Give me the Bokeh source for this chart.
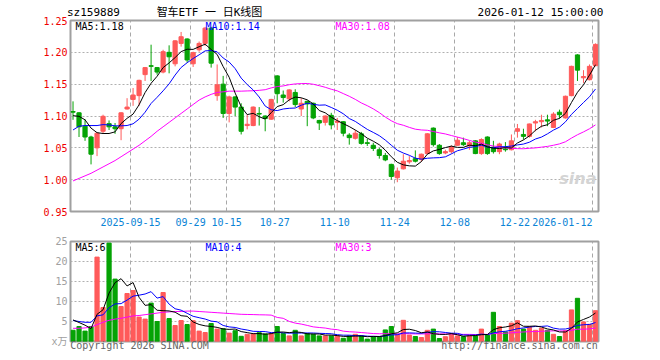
from bokeh.plotting import figure
from bokeh.layouts import column
from bokeh.models import (ColumnDataSource, FixedTicker, Label, Range1d, LinearAxis,
                          NumeralTickFormatter, CustomJSTickFormatter)
from bokeh.embed import file_html
from bokeh.resources import INLINE

# ---------------- data ----------------
dates = (
    ["2025-09-%s" % d for d in ["01", "02", "03", "04", "05", "08", "09", "10", "11", "12", "15", "16", "17", "18", "19", "22", "23", "24", "25", "26", "29", "30"]]
    + ["2025-10-%s" % d for d in ["09", "10", "13", "14", "15", "16", "17", "20", "21", "22", "23", "24", "27", "28", "29", "30", "31"]]
    + ["2025-11-%s" % d for d in ["03", "04", "05", "06", "07", "10", "11", "12", "13", "14", "17", "18", "19", "20", "21", "24", "25", "26", "27", "28"]]
    + ["2025-12-%s" % d for d in ["01", "02", "03", "04", "05", "08", "09", "10", "11", "12", "15", "16", "17", "18", "19", "22", "23", "24", "25", "26", "29", "30", "31"]]
    + ["2026-01-%s" % d for d in ["05", "06", "07", "08", "09", "12"]]
)

open_ = [1.107, 1.105, 1.084, 1.067, 1.050, 1.076, 1.088, 1.083, 1.080, 1.111,
         1.126, 1.132, 1.165, 1.179, 1.176, 1.169, 1.200, 1.182, 1.214, 1.221,
         1.182, 1.204, 1.214, 1.238, 1.132, 1.150, 1.104, 1.130, 1.114, 1.085,
         1.085, 1.104, 1.100, 1.095, 1.163, 1.133, 1.127, 1.137, 1.111, 1.123,
         1.120, 1.093, 1.090, 1.101, 1.090, 1.091, 1.070, 1.065, 1.072, 1.058,
         1.054, 1.047, 1.038, 1.024, 1.003, 1.017, 1.028, 1.033, 1.032, 1.041,
         1.081, 1.054, 1.042, 1.044, 1.054, 1.058, 1.053, 1.061, 1.041, 1.067,
         1.051, 1.044, 1.048, 1.047, 1.076, 1.071, 1.068, 1.089, 1.091, 1.094,
         1.082, 1.106, 1.097, 1.132, 1.196, 1.160, 1.157, 1.179]
high = [1.123, 1.106, 1.095, 1.069, 1.074, 1.102, 1.093, 1.089, 1.106, 1.128,
        1.144, 1.157, 1.177, 1.212, 1.177, 1.204, 1.211, 1.219, 1.232, 1.222,
        1.201, 1.217, 1.240, 1.240, 1.181, 1.163, 1.132, 1.131, 1.120, 1.102,
        1.115, 1.114, 1.101, 1.127, 1.164, 1.140, 1.142, 1.142, 1.128, 1.124,
        1.121, 1.094, 1.101, 1.105, 1.097, 1.092, 1.073, 1.078, 1.075, 1.064,
        1.058, 1.050, 1.042, 1.025, 1.019, 1.040, 1.037, 1.046, 1.041, 1.073,
        1.082, 1.056, 1.047, 1.054, 1.067, 1.066, 1.061, 1.062, 1.065, 1.068,
        1.061, 1.058, 1.059, 1.071, 1.0875, 1.080, 1.088, 1.094, 1.102, 1.102,
        1.106, 1.110, 1.132, 1.179, 1.197, 1.172, 1.181, 1.214]
low = [1.094, 1.067, 1.061, 1.024, 1.037, 1.073, 1.078, 1.072, 1.062, 1.110,
       1.116, 1.116, 1.155, 1.155, 1.165, 1.167, 1.167, 1.178, 1.209, 1.184,
       1.177, 1.201, 1.210, 1.176, 1.124, 1.097, 1.090, 1.100, 1.071, 1.079,
       1.084, 1.085, 1.076, 1.094, 1.120, 1.121, 1.123, 1.114, 1.100, 1.084,
       1.095, 1.078, 1.085, 1.079, 1.078, 1.068, 1.055, 1.063, 1.055, 1.053,
       1.045, 1.033, 1.029, 1.000, 0.996, 1.016, 1.025, 1.027, 1.028, 1.040,
       1.052, 1.039, 1.040, 1.041, 1.053, 1.053, 1.047, 1.040, 1.039, 1.039,
       1.041, 1.040, 1.044, 1.046, 1.066, 1.063, 1.066, 1.076, 1.082, 1.084,
       1.081, 1.096, 1.096, 1.131, 1.155, 1.152, 1.156, 1.178]
close = [1.106, 1.083, 1.067, 1.040, 1.073, 1.0995, 1.083, 1.080, 1.105, 1.114,
         1.133, 1.156, 1.176, 1.178, 1.169, 1.201, 1.193, 1.218, 1.2245, 1.188,
         1.1995, 1.214, 1.238, 1.183, 1.149, 1.104, 1.130, 1.114, 1.076, 1.087,
         1.114, 1.103, 1.096, 1.126, 1.135, 1.129, 1.141, 1.118, 1.120, 1.119,
         1.097, 1.089, 1.100, 1.086, 1.092, 1.073, 1.066, 1.073, 1.057, 1.057,
         1.049, 1.038, 1.031, 1.005, 1.0135, 1.029, 1.030, 1.029, 1.040, 1.072,
         1.055, 1.041, 1.044, 1.0515, 1.062, 1.055, 1.058, 1.041, 1.063, 1.041,
         1.044, 1.056, 1.047, 1.061, 1.080, 1.068, 1.0875, 1.091, 1.093, 1.092,
         1.103, 1.102, 1.131, 1.178, 1.172, 1.162, 1.178, 1.2125]
volume = [2.8, 3.75, 2.6, 3.75, 21.1, 8.5, 24.6, 15.6, 8.75, 12.0,
          12.75, 6.1, 5.6, 9.6, 5.0, 12.25, 5.75, 4.0, 5.25, 4.25,
          5.2, 2.6, 2.25, 4.5, 3.1, 3.2, 2.1, 2.7, 1.3, 1.8,
          1.9, 2.2, 1.9, 2.0, 3.75, 2.0, 1.4, 2.8, 1.4, 2.0,
          1.8, 1.4, 1.4, 1.4, 1.4, 0.8, 1.4, 1.8, 1.4, 0.6,
          1.2, 1.2, 2.9, 3.75, 1.8, 5.3, 1.6, 1.25, 1.0, 2.8,
          3.1, 0.75, 1.2, 2.0, 1.4, 1.2, 1.4, 1.4, 3.1, 1.6,
          7.3, 3.75, 2.4, 4.6, 5.2, 3.1, 3.7, 2.8, 3.3, 2.8,
          1.8, 1.25, 2.7, 7.9, 10.8, 4.9, 4.3, 7.7]

# closes / volumes of the 9 sessions before the window
prior_close = [1.023, 1.057, 1.040, 1.073, 1.0845, 1.088, 1.0945, 1.105, 1.109]
prior_volume = [6.25, 4.6, 3.75, 5.1, 5.8, 7.0, 5.95, 8.0, 3.25]
ma30_price_head = [0.998, 1.002, 1.006, 1.010, 1.015, 1.020, 1.025, 1.030, 1.036, 1.042,
                   1.048, 1.054, 1.061, 1.068, 1.076, 1.083, 1.090, 1.097, 1.104, 1.111,
                   1.118, 1.125, 1.130, 1.134, 1.137, 1.138, 1.139, 1.139, 1.139]
ma30_volume_head = [3.3, 3.3, 3.4, 3.6, 4.2, 4.8, 5.3, 5.6, 5.8, 6.1,
                    6.4, 6.5, 6.7, 6.9, 7.1, 7.3, 7.4, 7.5, 7.5, 7.6,
                    7.6, 7.5, 7.4, 7.3, 7.2, 7.1, 7.0, 6.9, 6.8]

tick_dates = ["2025-09-15", "2025-09-29", "2025-10-15", "2025-10-27", "2025-11-10",
              "2025-11-24", "2025-12-08", "2025-12-22", "2026-01-12"]
tick_labels = ["2025-09-15", "09-29", "10-15", "10-27", "11-10",
               "11-24", "12-08", "12-22", "2026-01-12"]
price_ticks = [0.95, 1.00, 1.05, 1.10, 1.15, 1.20, 1.25]
volume_ticks = [0, 5, 10, 15, 20, 25]
volume_unit = "x万"

header_texts = ["sz159889", "智车ETF 一 日K线图", "2026-01-12 15:00:00"]
footer_texts = ["Copyright 2026 SINA.COM", "http://finance.sina.com.cn"]
price_legend = ["MA5:1.18", "MA10:1.14", "MA30:1.08"]
volume_legend = ["MA5:6", "MA10:4", "MA30:3"]

# ---------------- derived ----------------
n = len(close)
xs = list(range(n))


def moving(series, prior, k, head=None):
    full = list(prior) + list(series)
    off = len(prior)
    out = []
    for i in range(len(series)):
        j = off + i
        if head is not None and i < len(head):
            out.append(head[i])
        else:
            out.append(sum(full[j - k + 1:j + 1]) / k)
    return out


ma5 = moving(close, prior_close, 5)
ma10 = moving(close, prior_close, 10)
ma30 = moving(close, [], 30, ma30_price_head)
vma5 = moving(volume, prior_volume, 5)
vma10 = moving(volume, prior_volume, 10)
vma30 = moving(volume, [], 30, ma30_volume_head)

RED = "#ff5a5a"
GREEN = "#05a305"
colors = [RED if c >= o else GREEN for o, c in zip(open_, close)]
src = ColumnDataSource(dict(
    x=xs, open=open_, close=close, high=high, low=low,
    top=[max(o, c) for o, c in zip(open_, close)],
    bottom=[min(o, c) for o, c in zip(open_, close)],
    vol=volume, color=colors,
    ma5=ma5, ma10=ma10, ma30=ma30, vma5=vma5, vma10=vma10, vma30=vma30,
))

GRID_SHIFT = -0.42
grid_pos = [dates.index(d) + GRID_SHIFT for d in tick_dates]
label_pos = list(grid_pos)
label_pos[-1] = grid_pos[-1] - 5.1  # last label is right-aligned to its line

MONO = "DejaVu Sans Mono"
X0, X1 = -0.42, 87.5
W, LB, RB = 660, 70, 62
PXU = (W - LB - RB) / (X1 - X0)


def px_to_x(px):
    return X0 + (px - LB) / PXU


def lookup_formatter(pos, labels):
    return CustomJSTickFormatter(args=dict(pos=pos, lab=labels), code="""
const i = pos.findIndex(p => Math.abs(p - tick) < 1e-6);
return i >= 0 ? lab[i] : "";
""")


def plain_axis(ax, color, size="10px", standoff=3, font=MONO):
    ax.axis_line_color = None
    ax.major_tick_line_color = None
    ax.minor_tick_line_color = None
    ax.major_tick_out = 0
    ax.major_tick_in = 0
    ax.minor_tick_out = 0
    ax.minor_tick_in = 0
    ax.major_label_text_color = color
    ax.major_label_text_font = font
    ax.major_label_text_font_size = size
    ax.major_label_standoff = standoff


# ---------------- price panel ----------------
H1, TB1, BB1 = 232, 20, 21
Y0, Y1 = 0.95, 1.25
p1 = figure(width=W, height=H1, x_range=Range1d(X0, X1), y_range=Range1d(Y0, Y1),
            output_backend="svg", toolbar_location=None,
            min_border_left=LB, min_border_right=RB, min_border_top=TB1, min_border_bottom=BB1,
            outline_line_color="#a0a0a0", outline_line_width=2,
            background_fill_color="white", border_fill_color="white")


def py1(py):
    return Y1 - (py - TB1) * (Y1 - Y0) / (H1 - TB1 - BB1)


p1.yaxis.ticker = FixedTicker(ticks=price_ticks)
p1.yaxis.formatter = NumeralTickFormatter(format="0.00")
plain_axis(p1.yaxis[0], "#ee0000")
p1.xaxis.ticker = FixedTicker(ticks=label_pos)
p1.xaxis.formatter = lookup_formatter(label_pos, tick_labels)
plain_axis(p1.xaxis[0], "#0a84d6", standoff=6)

# header row (code, title, time) as an axis above the frame
header_pos = [px_to_x(93), px_to_x(209), px_to_x(540)]
top_axis = LinearAxis(ticker=FixedTicker(ticks=header_pos),
                      formatter=lookup_formatter(header_pos, header_texts))
plain_axis(top_axis, "black", size="11px", standoff=2,
           font="DejaVu Sans Mono, Noto Sans CJK SC")
p1.add_layout(top_axis, "above")

p1.xgrid.ticker = FixedTicker(ticks=grid_pos)
p1.xgrid.grid_line_color = "#a8a8a8"
p1.xgrid.grid_line_dash = "4 3"
p1.ygrid.ticker = FixedTicker(ticks=price_ticks[1:-1])
p1.ygrid.grid_line_color = "#b0b0b0"
p1.ygrid.grid_line_dash = "2 2"

p1.segment(x0="x", y0="low", x1="x", y1="high", line_color="color", line_width=1, source=src)
p1.vbar(x="x", width=0.7, top="top", bottom="bottom", fill_color="color",
        line_color="color", line_width=1, source=src)
p1.line("x", "ma30", line_color="#ff00ff", line_width=1, source=src)
p1.line("x", "ma10", line_color="#0000ff", line_width=1, source=src)
p1.line("x", "ma5", line_color="black", line_width=1, source=src)


def put(fig, text, px, y, color="black", align="left", font=MONO, size="10px", style="normal"):
    fig.add_layout(Label(x=px_to_x(px), y=y, text=text, text_color=color, text_align=align,
                         text_baseline="middle", text_font=font, text_font_size=size,
                         text_font_style=style))


put(p1, price_legend[0], 75, py1(26), "black")
put(p1, price_legend[1], 205, py1(26), "#0000ff")
put(p1, price_legend[2], 335, py1(26), "#ff00ff")
put(p1, "sina", 596, py1(178), "#d4d4d4", align="right", font="DejaVu Sans", size="16px",
    style="bold italic")

# ---------------- volume panel ----------------
H2, TB2, BB2 = 128, 9, 19
V0, V1 = 0, 25
p2 = figure(width=W, height=H2, x_range=p1.x_range, y_range=Range1d(V0, V1),
            output_backend="svg", toolbar_location=None,
            min_border_left=LB, min_border_right=RB, min_border_top=TB2, min_border_bottom=BB2,
            outline_line_color="#a0a0a0", outline_line_width=2,
            background_fill_color="white", border_fill_color="white")


def py2(gy):
    local = gy - H1
    return V1 - (local - TB2) * (V1 - V0) / (H2 - TB2 - BB2)


p2.yaxis.ticker = FixedTicker(ticks=volume_ticks)
p2.yaxis.formatter = CustomJSTickFormatter(args=dict(unit=volume_unit), code="""
return tick == 0 ? unit : tick.toFixed(0);
""")
plain_axis(p2.yaxis[0], "#a0a0a0", font="DejaVu Sans Mono, Noto Sans CJK SC")

footer_pos = [px_to_x(139), px_to_x(519)]
p2.xaxis.ticker = FixedTicker(ticks=footer_pos)
p2.xaxis.formatter = lookup_formatter(footer_pos, footer_texts)
plain_axis(p2.xaxis[0], "#666666", standoff=-2)

p2.xgrid.ticker = FixedTicker(ticks=grid_pos)
p2.xgrid.grid_line_color = "#a8a8a8"
p2.xgrid.grid_line_dash = "4 3"
p2.ygrid.ticker = FixedTicker(ticks=volume_ticks[1:-1])
p2.ygrid.grid_line_color = "#b0b0b0"
p2.ygrid.grid_line_dash = "2 2"

p2.vbar(x="x", width=0.7, top="vol", bottom=0, fill_color="color",
        line_color="color", line_width=1, source=src)
p2.line("x", "vma30", line_color="#ff00ff", line_width=1, source=src)
p2.line("x", "vma10", line_color="#0000ff", line_width=1, source=src)
p2.line("x", "vma5", line_color="black", line_width=1, source=src)

put(p2, volume_legend[0], 75, py2(247), "black")
put(p2, volume_legend[1], 205, py2(247), "#0000ff")
put(p2, volume_legend[2], 335, py2(247), "#ff00ff")

layout = column(p1, p2)
open("out.html", "w").write(file_html(layout, INLINE))
